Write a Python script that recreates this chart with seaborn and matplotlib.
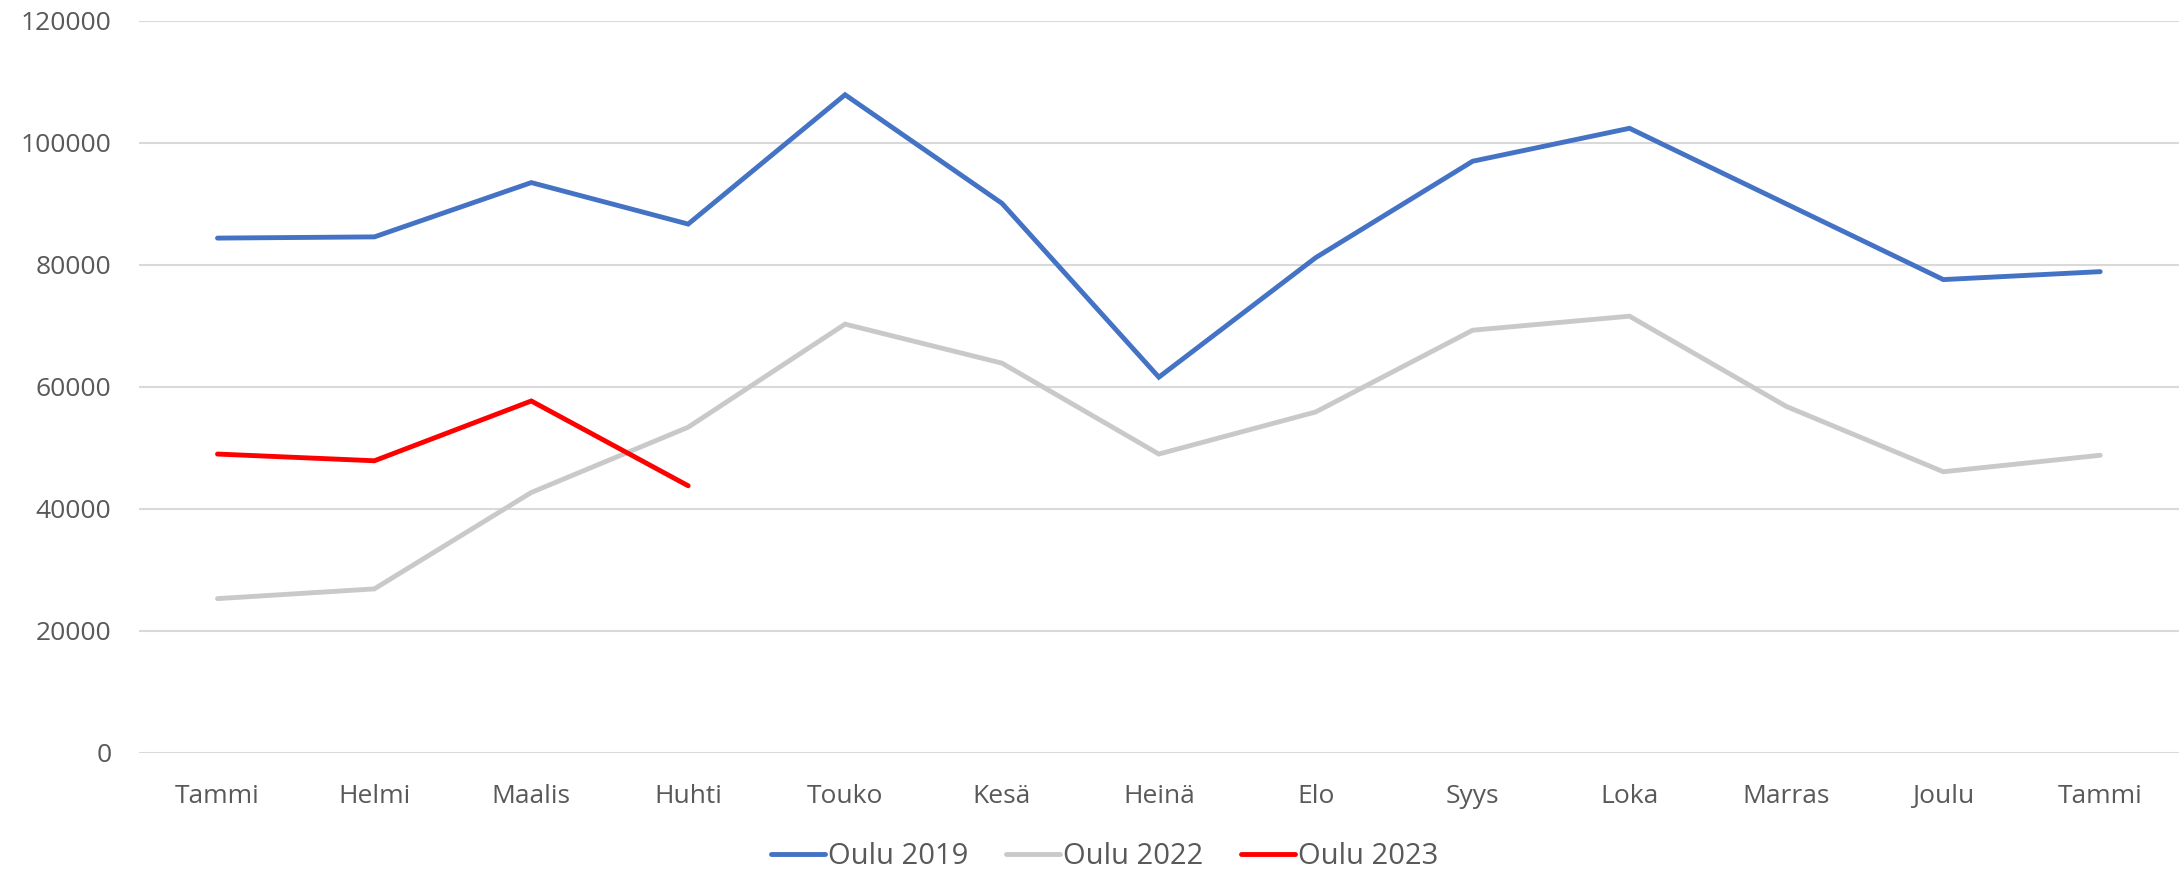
import matplotlib
matplotlib.use("Agg")
import matplotlib.pyplot as plt
import seaborn as sns
import pandas as pd
import numpy as np

months = ["Tammi", "Helmi", "Maalis", "Huhti", "Touko", "Kesä", "Heinä",
          "Elo", "Syys", "Loka", "Marras", "Joulu", "Tammi"]
oulu_2019 = [84400, 84600, 93500, 86700, 107900, 90100, 61600,
             81200, 97000, 102400, 90000, 77600, 78900]
oulu_2022 = [25300, 26900, 42700, 53400, 70300, 63900, 49000,
             55900, 69300, 71600, 56800, 46100, 48800]
oulu_2023 = [49000, 47900, 57700, 43800]
series_names = ["Oulu 2019", "Oulu 2022", "Oulu 2023"]
colors = ["#4472C4", "#C9C9C9", "#FF0000"]
y_ticks = [0, 20000, 40000, 60000, 80000, 100000, 120000]

rows = []
for name, vals in zip(series_names, [oulu_2019, oulu_2022, oulu_2023]):
    for i, v in enumerate(vals):
        rows.append({"pos": i, "value": v, "series": name})
df = pd.DataFrame(rows)

sns.set_theme(style="white")
plt.rcParams["font.family"] = ["Open Sans", "DejaVu Sans"]

fig = plt.figure(figsize=(21.83, 8.72), dpi=100)
ax = fig.add_axes([0.0637, 0.1365, 0.9343, 0.8395])

sns.lineplot(data=df, x="pos", y="value", hue="series", hue_order=series_names,
             palette=colors, linewidth=3.5, sort=False, ax=ax, legend=False,
             solid_capstyle="round", solid_joinstyle="miter")

ax.set_xlim(-0.5, len(months) - 0.5)
ax.set_ylim(0, 120000)
ax.set_yticks(y_ticks)
ax.set_yticklabels([str(t) for t in y_ticks])
ax.set_xticks(range(len(months)))
ax.set_xticklabels(months)
ax.set_xlabel("")
ax.set_ylabel("")
ax.grid(axis="y", color="#D9D9D9", linewidth=1.5)
ax.set_axisbelow(True)
for s in ax.spines.values():
    s.set_visible(False)
ax.tick_params(axis="both", length=0, labelsize=19, colors="#595959")
ax.tick_params(axis="y", pad=20)
ax.tick_params(axis="x", pad=22)

from matplotlib.lines import Line2D
handles = [Line2D([0], [0], color=c, lw=3.5, solid_capstyle="round") for c in colors]
leg = fig.legend(handles, series_names, loc="center", bbox_to_anchor=(0.506, 0.018),
                 ncol=3, frameon=False, handlelength=1.85,
                 handletextpad=0.1, columnspacing=1.3,
                 prop={"family": ["Liberation Sans Narrow", "Open Sans"], "size": 21})
for t in leg.get_texts():
    t.set_color("#595959")

fig.savefig("out.png", dpi=100)
